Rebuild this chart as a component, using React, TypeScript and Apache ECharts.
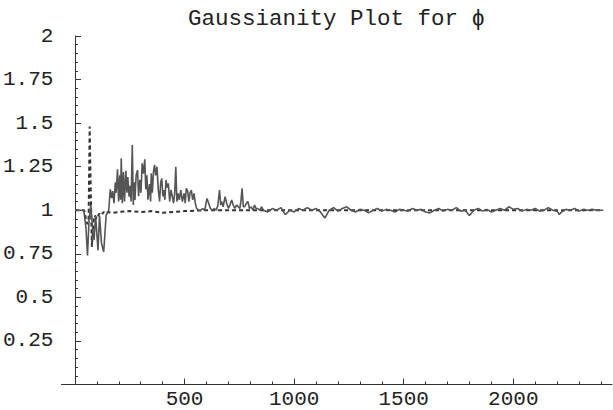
import React, { useEffect, useRef } from "react";
import * as echarts from "echarts";

const titleText = "Gaussianity Plot for ϕ";

const xTickValues = [500, 1000, 1500, 2000];
const xMinorTickValues = [100, 200, 300, 400, 600, 700, 800, 900, 1100, 1200, 1300, 1400, 1600, 1700, 1800, 1900, 2100, 2200, 2300, 2400];

const solidX = [
  0, 40, 50, 57, 64, 72, 80, 87, 94, 105, 112, 121, 131, 142, 154,
  161, 167, 172, 178, 184, 188, 194, 199, 204, 208, 211, 216, 221, 226, 232, 237, 241, 247, 252, 256,
  261.5, 266, 270, 273.5, 279, 285.5, 290, 296, 301, 306.4, 312, 318.4, 323, 328, 333, 340, 345, 348,
  353, 358, 363, 368, 374, 380, 386, 391, 396, 401, 405, 410, 415.6, 420, 426, 432, 438, 444, 450,
  455, 460, 465, 471, 476, 483, 490, 498, 503, 508, 514, 520, 525, 531, 537, 543, 549, 555, 564,
  573, 582, 592, 602.5, 610, 617.5, 626, 636, 645, 652, 659.5, 665, 670, 676, 685, 692, 700, 707,
  715, 722, 730, 737, 745, 752, 757, 762.5, 768, 774, 782, 789, 796, 804, 812, 819, 826, 834, 843, 852,
  860, 880, 900, 920, 940, 960, 980, 1000, 1020, 1040, 1060, 1080, 1100, 1120, 1140, 1160, 1180,
  1200, 1220, 1240, 1260, 1280, 1300, 1320, 1340, 1360, 1380, 1400, 1420, 1440, 1460, 1480, 1500,
  1520, 1540, 1560, 1580, 1600, 1620, 1640, 1660, 1680, 1700, 1720, 1740, 1760, 1780, 1800, 1820,
  1840, 1860, 1880, 1900, 1920, 1940, 1960, 1980, 2000, 2020, 2040, 2060, 2080, 2100, 2120, 2140,
  2160, 2180, 2200, 2210, 2220, 2240, 2260, 2280, 2300, 2320, 2340, 2360, 2380, 2400, 2410,
];

const solidY = [
  1.0, 1.0, 0.9, 0.74, 0.94, 1.03, 0.9, 0.83, 0.97, 0.77, 0.97, 0.81, 0.76, 0.97, 1.0,
  1.12, 1.07, 1.11, 1.04, 1.16, 1.1, 1.235, 1.05, 1.2, 1.06, 1.298, 1.04, 1.22, 1.05, 1.227, 1.1, 1.19, 1.078, 1.14, 1.05,
  1.374, 1.03, 1.16, 1.059, 1.2, 1.231, 1.08, 1.174, 1.1, 1.269, 1.21, 1.292, 1.12, 1.2, 1.06, 1.15, 1.05, 1.212,
  1.1, 1.22, 1.26, 1.2, 1.25, 1.12, 1.05, 1.16, 1.183, 1.08, 1.116, 1.06, 1.174, 1.13, 1.154, 1.05, 1.116, 1.08, 1.04,
  1.1, 1.25, 1.05, 1.097, 1.06, 1.116, 1.05, 1.097, 1.04, 1.126, 1.11, 1.05, 1.1, 1.116, 1.06, 1.097, 1.04, 1.011, 1.0,
  1.0, 1.01, 1.0, 1.068, 1.04, 1.011, 1.0, 1.01, 1.0, 1.03, 1.116, 1.03, 1.049, 1.02, 1.078, 1.04, 1.011, 1.03,
  1.059, 1.03, 1.011, 1.03, 1.02, 1.01, 1.05, 1.126, 1.02, 1.02, 1.04, 1.05, 1.01, 1.02, 1.0, 1.03, 1.01, 1.01, 1.0, 1.02,
  1.0, 0.99, 1.01, 1.0, 1.015, 0.975, 1.0, 0.99, 1.01, 1.0, 1.015, 1.0, 1.01, 0.99, 0.955, 1.0, 1.015,
  0.995, 1.01, 1.02, 1.0, 0.99, 1.005, 1.0, 0.985, 1.0, 1.01, 0.995, 1.005, 1.0, 0.99, 1.005, 1.0,
  0.995, 1.01, 1.0, 1.005, 0.99, 0.985, 1.0, 1.01, 0.995, 1.005, 1.0, 1.015, 0.995, 1.0, 0.97, 1.0,
  1.01, 0.995, 1.005, 0.99, 1.0, 1.01, 1.0, 1.02, 1.005, 1.01, 0.995, 1.005, 1.0, 1.01, 0.995, 1.0,
  1.015, 1.0, 0.995, 0.975, 0.99, 1.005, 1.0, 1.01, 0.995, 1.005, 1.0, 1.005, 1.0, 1.0, 1.0,
];

const dashedX = [0, 42, 50, 57, 62, 67, 72, 77, 83, 90, 100, 110, 120, 130, 140, 150, 170, 200, 250, 300, 350, 400, 450, 500, 600, 800, 1200, 2410];
const dashedY = [1.0, 1.0, 0.95, 0.92, 0.95, 1.48, 1.1, 0.79, 0.92, 0.97, 0.95, 0.98, 0.97, 0.99, 0.98, 0.99, 0.985, 0.99, 0.995, 0.99, 0.995, 0.985, 0.99, 0.995, 1.0, 1.0, 1.0, 1.0];

const zip = (xs: number[], ys: number[]) => xs.map((x, i) => [x, ys[i]]);

export default function App() {
  const ref = useRef<HTMLDivElement>(null);
  useEffect(() => {
    if (!ref.current) return;
    const chart = echarts.init(ref.current, undefined, { renderer: "svg" });
    const font = "'Liberation Mono', 'DejaVu Sans Mono', monospace";
    const axisColor = "#333";
    chart.setOption({
      animation: false,
      backgroundColor: "#fff",
      title: {
        text: titleText,
        left: 183,
        top: 2,
        textStyle: { fontFamily: font, fontSize: 22.5, fontWeight: "normal", color: "#222" },
      },
      grid: { left: 51.7, right: 1.1, top: 36, bottom: 25.5, containLabel: false },
      xAxis: [
        {
          type: "value",
          min: -62,
          max: 2450,
          splitLine: { show: false },
          axisLine: { show: true, onZero: true, lineStyle: { color: axisColor, width: 1 } },
          axisTick: { show: true, inside: true, length: 6, customValues: xTickValues, lineStyle: { color: axisColor } },
          axisLabel: {
            show: true,
            customValues: xTickValues,
            margin: 4,
            fontFamily: font,
            fontSize: 21,
            color: "#222",
            formatter: (v: number) => String(v),
          },
        },
        {
          type: "value",
          min: -62,
          max: 2450,
          position: "bottom",
          splitLine: { show: false },
          axisLine: { show: false },
          axisTick: { show: true, inside: true, length: 3, customValues: xMinorTickValues, lineStyle: { color: axisColor } },
          axisLabel: { show: false },
        },
      ],
      yAxis: {
        type: "value",
        min: 0,
        max: 2,
        interval: 0.25,
        splitLine: { show: false },
        axisLine: { show: true, onZero: true, lineStyle: { color: axisColor, width: 1 } },
        axisTick: { show: true, inside: true, length: 6, lineStyle: { color: axisColor } },
        minorTick: { show: true, splitNumber: 5, length: 3, lineStyle: { color: axisColor } },
        axisLabel: {
          margin: 8,
          fontFamily: font,
          fontSize: 21,
          color: "#222",
          padding: [7, 0, 0, 0],
          formatter: (v: number) => (v === 0 ? "" : String(v)),
        },
      },
      series: [
        {
          type: "line",
          xAxisIndex: 0,
          data: zip(dashedX, dashedY),
          showSymbol: false,
          symbol: "none",
          lineStyle: { color: "#333", width: 2, type: [4, 3] },
          z: 2,
        },
        {
          type: "line",
          xAxisIndex: 0,
          data: zip(solidX, solidY),
          showSymbol: false,
          symbol: "none",
          lineStyle: { color: "#555", width: 1.6 },
          z: 3,
        },
      ],
    });
    return () => chart.dispose();
  }, []);
  return (
    <div
      ref={ref}
      style={{ position: "fixed", left: 0, top: 0, width: 613, height: 410, background: "#fff" }}
    />
  );
}
